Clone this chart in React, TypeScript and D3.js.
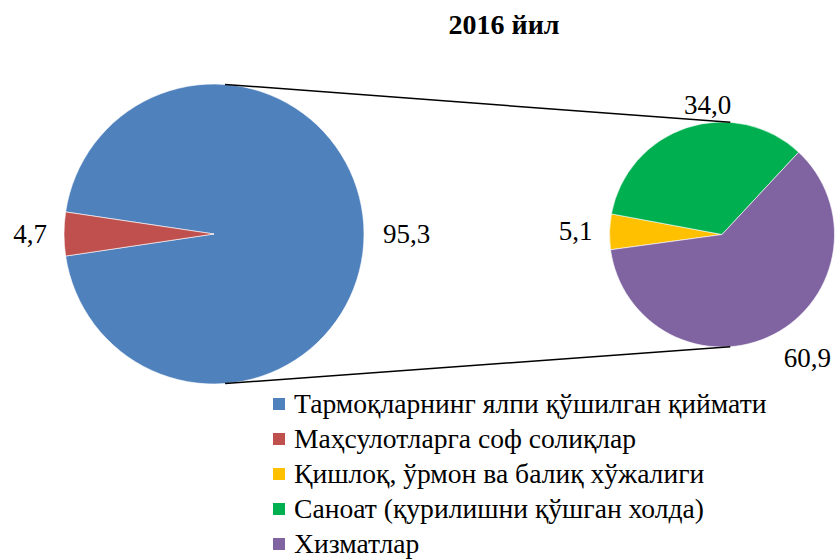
import React from "react";
import * as d3 from "d3";

const title = "2016 йил";
const mainCategories = ["Тармоқларнинг ялпи қўшилган қиймати", "Маҳсулотларга соф солиқлар"];
const mainValues = [95.3, 4.7];
const subCategories = ["Қишлоқ, ўрмон ва балиқ хўжалиги", "Саноат (қурилишни қўшган холда)", "Хизматлар"];
const subValues = [5.1, 34.0, 60.9];
const mainColors = ["#4F81BD", "#C0504D"];
const subColors = ["#FFC000", "#00B050", "#8064A2"];

const W = 835;
const H = 560;
const FONT = "Liberation Serif";

const fmt = (v: number) => v.toFixed(1).replace(".", ",");
const deg = Math.PI / 180;

export default function App() {
  const c1 = { x: 214, y: 234, r: 150 };
  const c2 = { x: 722, y: 234.5, r: 112.5 };

  const redSpan = (mainValues[1] / d3.sum(mainValues)) * 2 * Math.PI;
  const mainPie = d3
    .pie<number>()
    .sort(null)
    .value((d) => d)
    .startAngle(270 * deg + redSpan / 2)
    .endAngle(270 * deg + redSpan / 2 + 2 * Math.PI);
  const mainArcs = mainPie(mainValues);

  const subStart = 262.2 * deg;
  const subPie = d3
    .pie<number>()
    .sort(null)
    .value((d) => d)
    .startAngle(subStart)
    .endAngle(subStart + 2 * Math.PI);
  const subArcs = subPie(subValues);

  const arc1 = d3.arc<d3.PieArcDatum<number>>().innerRadius(0).outerRadius(c1.r);
  const arc2 = d3.arc<d3.PieArcDatum<number>>().innerRadius(0).outerRadius(c2.r);

  const d = c2.x - c1.x;
  const theta = Math.asin((c1.r - c2.r) / d);
  const pt = (c: { x: number; y: number; r: number }, a: number) => ({
    x: c.x + c.r * Math.sin(a),
    y: c.y - c.r * Math.cos(a),
  });
  const lines = [
    [pt(c1, theta), pt(c2, theta)],
    [pt(c1, Math.PI - theta), pt(c2, Math.PI - theta)],
  ];

  const labelFont = 27;
  const capH = 19;
  const label = (
    c: { x: number; y: number; r: number },
    a: d3.PieArcDatum<number>,
    key: string,
    gap: number
  ) => {
    const mid = (a.startAngle + a.endAngle) / 2;
    const s = Math.sin(mid);
    const co = Math.cos(mid);
    const px = c.x + (c.r + gap) * s;
    const py = c.y - (c.r + gap) * co;
    const yc = py - (co * capH) / 2;
    const anchor = s > -0.5 ? "start" : "end";
    return (
      <text
        key={key}
        x={px + (anchor === "start" ? 2 : 0)}
        y={yc}
        dy="0.34em"
        textAnchor={anchor}
        fontSize={labelFont}
        fontFamily={FONT}
        fill="#000"
      >
        {fmt(a.data)}
      </text>
    );
  };

  const legendItems = [
    ...mainCategories.map((n, i) => ({ n, c: mainColors[i] })),
    ...subCategories.map((n, i) => ({ n, c: subColors[i] })),
  ];
  const legendY = d3.scalePoint<number>().domain(legendItems.map((_, i) => i)).range([404, 544]);

  return (
    <svg width={W} height={H} style={{ position: "absolute", left: 0, top: 0, background: "#fff" }}>
      <text x={504} y={33.5} textAnchor="middle" fontSize={28} fontWeight="bold" fontFamily={FONT}>
        {title}
      </text>
      <g transform={`translate(${c1.x},${c1.y})`}>
        {mainArcs.map((a, i) => (
          <path key={i} d={arc1(a) || ""} fill={mainColors[i]} stroke="#fff" strokeWidth={0.6} />
        ))}
      </g>
      <g transform={`translate(${c2.x},${c2.y})`}>
        {subArcs.map((a, i) => (
          <path key={i} d={arc2(a) || ""} fill={subColors[i]} stroke="#fff" strokeWidth={0.6} />
        ))}
      </g>
      {lines.map((l, i) => (
        <line key={i} x1={l[0].x} y1={l[0].y} x2={l[1].x} y2={l[1].y} stroke="#000" strokeWidth={1.5} />
      ))}
      {mainArcs.map((a, i) => label(c1, a, "m" + i, 17))}
      {subArcs.map((a, i) => label(c2, a, "s" + i, i === 1 ? 15 : 17))}
      {legendItems.map((it, i) => (
        <g key={i} transform={`translate(273,${legendY(i)})`}>
          <rect x={0} y={-6} width={12} height={12} fill={it.c} />
          <text x={21} y={0} dy="0.34em" fontSize={27.6} fontFamily={FONT} fill="#000">
            {it.n}
          </text>
        </g>
      ))}
    </svg>
  );
}
